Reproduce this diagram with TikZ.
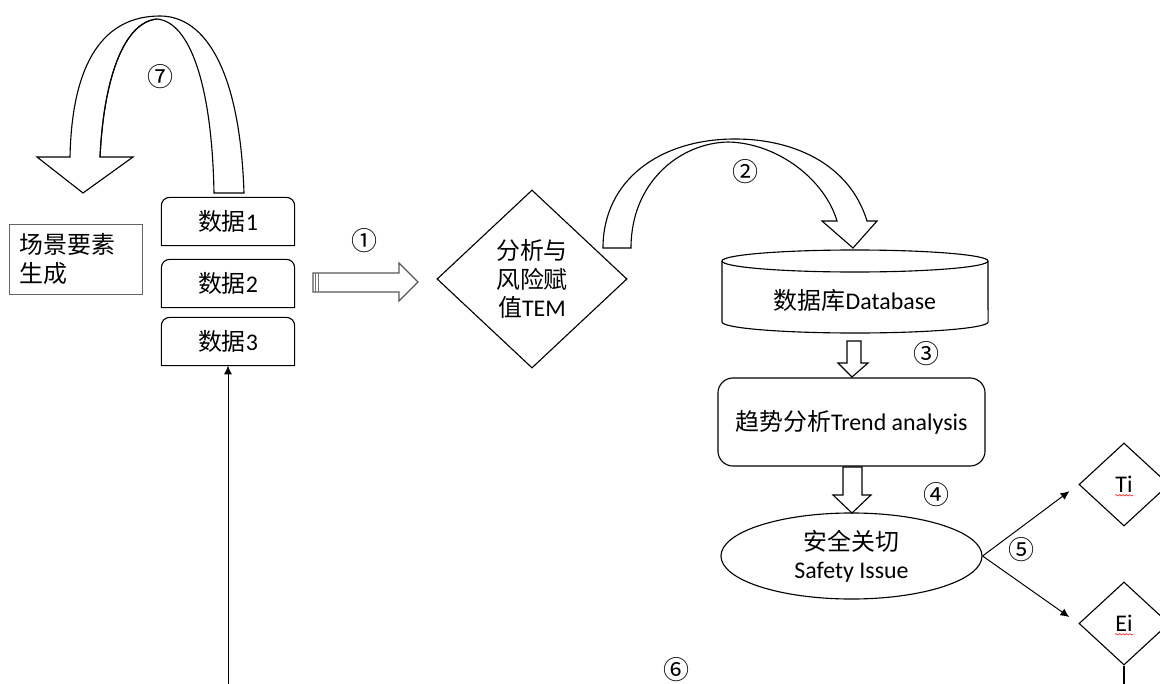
\documentclass[tikz,border=0pt]{standalone}
\usepackage{fontspec}
\setmainfont{Carlito}
\newfontfamily\cjk{Noto Sans CJK SC}
\usetikzlibrary{shapes.geometric,arrows.meta,decorations.pathmorphing}
\begin{document}
\begin{tikzpicture}[x=0.025cm,y=-0.025cm,
  line width=0.8pt,
  txt/.style={font=\fontsize{17}{20}\selectfont, inner sep=0pt},
  num/.style={font=\cjk\fontsize{18.5}{20}\selectfont, inner sep=0pt},
  databox/.style={txt, minimum width=3.3cm, minimum height=1.175cm},
  decision/.style={diamond, draw, txt, align=center},
  tip/.style={-{Latex[length=0.22cm,width=0.2cm]}, line width=0.7pt},
  spell/.style={draw=red!80, line width=0.5pt, decorate, decoration={snake, amplitude=0.5pt, segment length=2.4pt}},
  blockarrow/.style={draw, fill=white, line join=miter}
]
\useasboundingbox (0,0) rectangle (1160,684);
\clip (0,0) rectangle (1160,684);
\fill[white] (0,0) rectangle (1160,684);

% scene box
\node[draw=black!60, line width=0.6pt, txt, minimum width=3.325cm, minimum height=1.75cm, text width=2.775cm,
      align=left, inner xsep=0.275cm] (scene) at (75.5,259) {{\cjk 场景要素}\\{\cjk 生成}};

% data boxes
\node[databox] (d1) at (228,221.5) {{\cjk 数据}1};
\node[databox] (d2) at (228,283.5) {{\cjk 数据}2};
\node[databox] (d3) at (228,341.5) {{\cjk 数据}3};
\foreach \n in {d1,d2,d3}
  \draw (\n.south west) -- ([yshift=-0.2cm]\n.north west) arc[start angle=180,end angle=90,radius=0.2cm]
        -- ([xshift=-0.2cm]\n.north east) arc[start angle=90,end angle=0,radius=0.2cm]
        -- (\n.south east) -- cycle;

% curved arrow 7
\draw[blockarrow] (214,193) -- (244,193)
  .. controls (240,70) and (205,16) .. (160,16)
  .. controls (105,16) and (72,60) .. (70,157)
  -- (37,157) -- (83,193) -- (133,157) -- (100,157)
  .. controls (104,75) and (125,22) .. (157,19)
  .. controls (190,22) and (212,85) .. (214,193) -- cycle;
\draw (100,157) .. controls (104,75) and (125,22) .. (157,19);

% arrow 1
\draw[blockarrow, draw=black!65] (313,273) -- (399,273) -- (399,263) -- (418,282)
  -- (399,301) -- (399,292) -- (313,292) -- cycle;
\foreach \xx in {315.5,318} \draw[black!55, line width=0.6pt] (\xx,273) -- (\xx,292);

% TEM diamond
\node[decision, minimum width=4.75cm, minimum height=4.45cm] (tem) at (532,279)
  {{\cjk 分析与}\\{\cjk 风险赋}\\{\cjk 值}TEM};

% curved arrow 2
\draw[blockarrow] (603,248) -- (631,248)
  .. controls (631,182) and (680,143) .. (728,142)
  .. controls (778,143) and (825,180) .. (837,221)
  -- (822,221) -- (853,248) -- (877,221) -- (867,221)
  .. controls (850,165) and (795,139) .. (735,139)
  .. controls (660,139) and (603,180) .. (603,248) -- cycle;

% database cylinder
\draw (855,261) ellipse[x radius=3.325cm, y radius=0.275cm];
\draw (722,261) -- (722,322) arc[start angle=180,end angle=360,x radius=3.325cm,y radius=0.275cm] -- (988,261);
\node[txt] (db) at (855,300) {{\cjk 数据库}Database};

% arrow 3
\draw[blockarrow] (847,341) -- (861,341) -- (861,363) -- (868,363) -- (852,377)
  -- (838,363) -- (847,363) -- cycle;

% trend
\node[draw, rounded corners=0.375cm, txt, minimum width=6.675cm, minimum height=2.2cm]
  (trend) at (851.5,422) {{\cjk 趋势分析}Trend analysis};

% arrow 4
\draw[blockarrow] (843,467) -- (862,467) -- (862,495) -- (871,495) -- (852,513)
  -- (833,495) -- (843,495) -- cycle;

% safety ellipse
\node[draw, ellipse, txt, align=center, minimum width=6.525cm, minimum height=2.15cm]
  (safety) at (851.5,556) {{\cjk 安全关切}\\Safety Issue};

% Ti / Ei
\node[decision, minimum width=2.25cm, minimum height=2.075cm] (ti) at (1124,484.5) {Ti};
\node[decision, minimum width=2.25cm, minimum height=2.075cm] (ei) at (1124,623.5) {Ei};
\draw[spell] ([xshift=-0.22cm,yshift=-0.27cm]ti.center) -- ++(18,0);
\draw[spell] ([xshift=-0.22cm,yshift=-0.27cm]ei.center) -- ++(18,0);

\draw[tip, shorten >=0.28cm] (safety.east) -- (ti.west);
\draw[tip, shorten >=0.28cm] (safety.east) -- (ei.west);

\coordinate (eiend) at (1124,700);
\draw (ei.south) -- (eiend);

% feedback arrow
\coordinate (feed) at (228,700);
\draw[tip] (feed) -- (d3.south);

% numbers
\node[num] (n7) at (161,77) {⑦};
\node[num] (n1) at (365,241) {①};
\node[num] (n2) at (746,172) {②};
\node[num] (n3) at (926,354) {③};
\node[num] (n4) at (937,495) {④};
\node[num] (n5) at (1021,550) {⑤};
\node[num] (n6) at (677,670) {⑥};
\end{tikzpicture}
\end{document}
